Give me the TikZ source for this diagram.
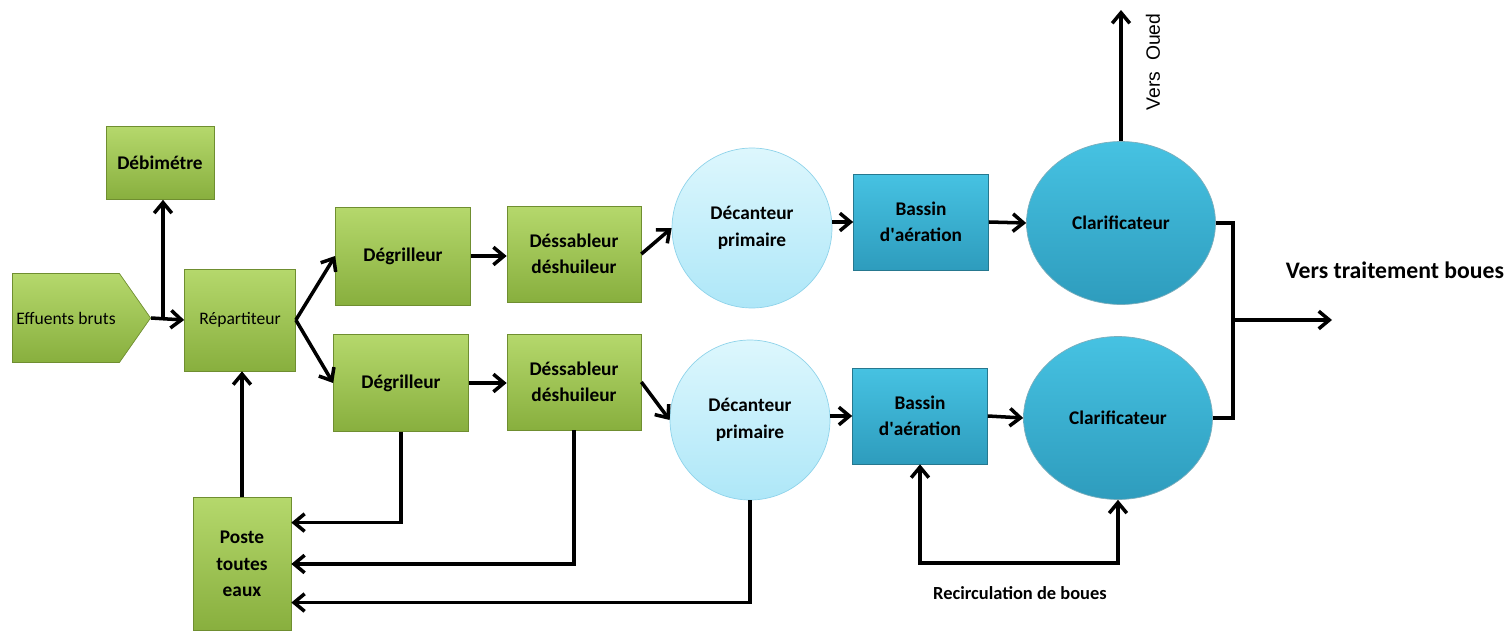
\documentclass[tikz,border=0pt]{standalone}
\usepackage{fontspec}
\setmainfont{Carlito}
\newfontfamily\arialfont{Liberation Sans}
\usetikzlibrary{arrows.meta}
\usetikzlibrary{shapes.geometric}
\usetikzlibrary{shapes.symbols}
\definecolor{vertclair}{HTML}{B5D86C}
\definecolor{vertfonce}{HTML}{88AF3E}
\definecolor{vertbord}{HTML}{6F8E30}
\definecolor{cielclair}{HTML}{DDF7FD}
\definecolor{cielfonce}{HTML}{AEE7F8}
\definecolor{cielbord}{HTML}{8FD3EA}
\definecolor{bleuclair}{HTML}{46C2E2}
\definecolor{bleufonce}{HTML}{2E9CBD}
\definecolor{bleubord}{HTML}{26788F}
\newcommand{\fleche}{-{Straight Barb[length=6pt,width=10pt]}}

\begin{document}
\begin{tikzpicture}[x=0.02cm,y=-0.02cm,
	vert/.style={rectangle,draw=vertbord,top color=vertclair,bottom color=vertfonce,align=center,font=\bfseries\fontsize{11}{15}\selectfont},
	ciel/.style={circle,draw=cielbord,top color=cielclair,bottom color=cielfonce,minimum size=3.2cm,align=center,font=\bfseries\fontsize{11}{15}\selectfont},
	bleu/.style={rectangle,draw=bleubord,top color=bleuclair,bottom color=bleufonce,minimum width=2.7cm,minimum height=1.92cm,align=center,font=\bfseries\fontsize{11}{15}\selectfont},
	flux/.style={line width=2pt,black}]
		\useasboundingbox (0,0) rectangle (1509,632);
		% entree et repartition
		\node[signal,signal to=east,signal pointer angle=110,draw=vertbord,top color=vertclair,bottom color=vertfonce,minimum width=2.76cm,minimum height=1.78cm,inner sep=0pt,font=\fontsize{10}{12}\selectfont] (eff) at (66,318) {Effuents bruts\hspace{2mm}};
		\node[vert,minimum width=2.16cm,minimum height=1.46cm] (deb) at (160,163) {Débimétre};
		\node[vert,minimum width=2.22cm,minimum height=2.04cm,font=\fontsize{10}{12}\selectfont] (rep) at (240,320) {Répartiteur};
		\node[vert,minimum width=1.96cm,minimum height=2.66cm] (poste) at (242,564) {Poste\\toutes\\eaux};
		% file du haut
		\node[vert,minimum width=2.7cm,minimum height=1.96cm] (deg1) at (403,256) {Dégrilleur};
		\node[vert,minimum width=2.68cm,minimum height=1.92cm] (des1) at (574,254) {Déssableur\\déshuileur};
		\node[ciel] (dec1) at (752,228) {Décanteur\\primaire};
		\node[bleu] (bas1) at (921,222) {Bassin\\d\textquotesingle aération};
		\node[ellipse,draw=bleubord!60,top color=bleuclair,bottom color=bleufonce,minimum width=3.78cm,minimum height=3.26cm,font=\bfseries\fontsize{11}{15}\selectfont] (cla1) at (1121,223) {Clarificateur};
		% file du bas
		\node[vert,minimum width=2.7cm,minimum height=1.94cm] (deg2) at (401,383) {Dégrilleur};
		\node[vert,minimum width=2.68cm,minimum height=1.92cm] (des2) at (574,382) {Déssableur\\déshuileur};
		\node[ciel] (dec2) at (750,420) {Décanteur\\primaire};
		\node[bleu] (bas2) at (920,416) {Bassin\\d\textquotesingle aération};
		\node[ellipse,draw=bleubord!60,top color=bleuclair,bottom color=bleufonce,minimum width=3.78cm,minimum height=3.26cm,font=\bfseries\fontsize{11}{15}\selectfont] (cla2) at (1118,418) {Clarificateur};
		% sorties
		\coordinate (br) at (163,320);
		\coordinate (oued) at (1121,10);
		\coordinate (bk) at (1233,320);
		\coordinate (sortie) at (1332,320);
		\coordinate (rc) at (1020,563);
		\node[rotate=90,font=\arialfont\fontsize{11}{13}\selectfont] (vo) at (1153,62) {Vers\ \ Oued};
		\node[font=\bfseries\fontsize{13.5}{16}\selectfont] (vt) at (1395,270) {Vers traitement boues};
		\node[font=\bfseries\fontsize{10.5}{13}\selectfont] (rl) at (1020,593) {Recirculation de boues};
		% fleches
		\draw[flux,\fleche] (eff.east) -- (rep.west);
		\draw[flux,\fleche] (br) -- (br |- deb.south);
		\draw[flux,\fleche] (rep.east) -- (deg1.west);
		\draw[flux,\fleche] (rep.east) -- (deg2.west);
		\draw[flux,\fleche] (deg1.east) -- (des1.west |- deg1.east);
		\draw[flux,\fleche] (deg2.east) -- (des2.west |- deg2.east);
		\draw[flux,\fleche] (des1.east) -- (dec1.west);
		\draw[flux,\fleche] (des2.east) -- (dec2.west);
		\draw[flux,\fleche] (dec1.east |- bas1.west) -- (bas1.west);
		\draw[flux,\fleche] (dec2.east |- bas2.west) -- (bas2.west);
		\draw[flux,\fleche] (bas1.east) -- (cla1.west);
		\draw[flux,\fleche] (bas2.east) -- (cla2.west);
		\draw[flux,\fleche] (cla1.north) -- (oued);
		\draw[flux] (cla1.east) -| (bk) |- (cla2.east);
		\draw[flux,\fleche] (bk) -- (sortie);
		\draw[flux,\fleche] (poste.north) -- (poste.north |- rep.south);
		\draw[flux,\fleche] (deg2.south) |- (poste.40);
		\draw[flux,\fleche] (des2.south) |- (poste.east);
		\draw[flux,\fleche] (dec2.south) |- (poste.-38);
		\draw[flux,{Straight Barb[length=6pt,width=10pt]}-{Straight Barb[length=6pt,width=10pt]}] (bas2.south) |- (rc) -| (cla2.south);
\end{tikzpicture}
\end{document}
